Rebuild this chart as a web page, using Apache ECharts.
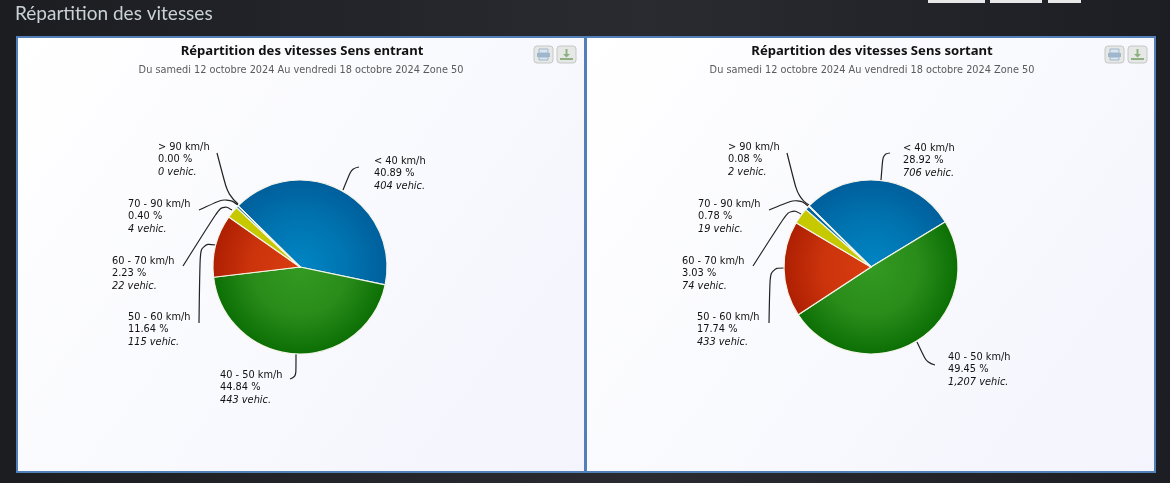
<!DOCTYPE html>
<html><head><meta charset="utf-8">
<style>html,body{margin:0;padding:0;background:#1e1f24;overflow:hidden}#c{width:1170px;height:483px}</style>
<script src="https://cdn.jsdelivr.net/npm/echarts@6/dist/echarts.min.js"></script></head>
<body><div id="c"></div>
<script>
const pageTitle = 'Répartition des vitesses';
const subtitle = 'Du samedi 12 octobre 2024 Au vendredi 18 octobre 2024 Zone 50';
const titleIn = 'Répartition des vitesses Sens entrant';
const titleOut = 'Répartition des vitesses Sens sortant';
const categories = ['< 40 km/h','40 - 50 km/h','50 - 60 km/h','60 - 70 km/h','70 - 90 km/h','> 90 km/h'];
const vehiclesIn = [404,443,115,22,4,0];
const percentIn = ['40.89','44.84','11.64','2.23','0.40','0.00'];
const vehiclesOut = [706,1207,433,74,19,2];
const percentOut = ['28.92','49.45','17.74','3.03','0.78','0.08'];

const FONT = '"DejaVu Sans", Verdana, sans-serif';
const labelXYIn = [[374,155],[220,369],[128,311],[112,255],[128,198],[158,141]];
const labelXYOut = [[903,142],[948,351],[697,311],[682,255],[698,198],[728,141]];
const elbowsIn = [[[352,168],[359,167]],[[296,377],[290,379]],[[200,243],[199,323]],[[222,204],[183,266]],[[227,197],[199,210]],[[228,195],[217,153]]];
const elbowsOut = [[[883,154],[890,153]],[[927,363],[935,365]],[[770,268],[769,323]],[[790,208],[753,266]],[[798,198],[769,210]],[[798,197],[787,153]]];
const starts = {
  0:[[343,190],[296,354],[216,245],[232,210],[238,205],[238,204]],
  1:[[881,180],[917,342],[784,268],[801,214],[808,206],[809,205]]
};
const R = 87;
const cxIn = 300, cxOut = 871, cy = 267;

function grad(cx, inner, mid, outer){
  return {type:'radial',x:cx,y:cy,r:R,global:true,colorStops:[{offset:0,color:inner},{offset:0.55,color:mid},{offset:1,color:outer}]};
}
function colors(cx){
  return [
    grad(cx,'#0085c4','#0074b0','#005f9c'),
    grad(cx,'#339a22','#2a8c1a','#0c6f05'),
    grad(cx,'#d93c10','#cc340c','#ae1f02'),
    '#c6c800',
    grad(cx,'#0085c4','#0074b0','#005f9c'),
    '#8a8a8a'
  ];
}
function pie(name,cx,vals,pct,labelXY,elbows,si){
  const cols = colors(cx);
  return {
    type:'pie',name,center:[cx,cy],radius:[0,R],startAngle:135.4,clockwise:true,
    avoidLabelOverlap:false,animation:false,stillShowZeroSum:true,
    itemStyle:{borderColor:'#f4f5e8',borderWidth:1.2},
    label:{show:true,position:'outside',alignTo:'none',color:'#111',fontFamily:FONT,fontSize:9.8,lineHeight:12.4,
      formatter:p=>`{a|${categories[p.dataIndex]}}\n{a|${pct[p.dataIndex]} %}\n{c|${vals[p.dataIndex].toLocaleString('en-US')} vehic.}`,
      rich:{a:{fontFamily:FONT,fontSize:9.8,lineHeight:12.4,color:'#111'},c:{fontFamily:FONT,fontSize:9.8,lineHeight:12.4,fontStyle:'italic',color:'#111'}}},
    labelLine:{show:true,smooth:0.45,lineStyle:{color:'#222',width:1.2}},
    labelLayout:p=>{
      const i=p.dataIndex;
      return {x:labelXY[i][0],y:labelXY[i][1],align:'left',verticalAlign:'top',
        labelLinePoints:[starts[si][i],elbows[i][0],elbows[i][1]]};
    },
    emphasis:{disabled:true},
    data:categories.map((c,i)=>({name:c,value:vals[i],itemStyle:{color:cols[i]}}))
  };
}
function panel(x,w){
  return {type:'rect',z:-10,shape:{x,y:37,width:w,height:435},
    style:{fill:{type:'linear',x:0,y:0,x2:1,y2:1,colorStops:[{offset:0,color:'#ffffff'},{offset:1,color:'#f3f4fd'}]},stroke:'#5180b8',lineWidth:2}};
}
function button(x,kind){
  const g='#9fb6cc', gr='#8fb083';
  const kids=[{type:'rect',shape:{x:0,y:0,width:19,height:17,r:3},style:{fill:'#e6e8e6',stroke:'#c4c8c6',lineWidth:1}}];
  if(kind==='print'){
    kids.push({type:'rect',shape:{x:5,y:3,width:9,height:4},style:{fill:'#dce6f0',stroke:g}});
    kids.push({type:'rect',shape:{x:3,y:7,width:13,height:4},style:{fill:g}});
    kids.push({type:'rect',shape:{x:5,y:11,width:9,height:3},style:{fill:'#dce6f0',stroke:g}});
  }else{
    kids.push({type:'polygon',shape:{points:[[8.5,3],[10.5,3],[10.5,8],[13,8],[9.5,11.5],[6,8],[8.5,8]]},style:{fill:gr}});
    kids.push({type:'rect',shape:{x:3,y:12,width:13,height:2},style:{fill:gr}});
  }
  return {type:'group',x,y:46,z:-5,children:kids};
}
const chart = echarts.init(document.getElementById('c'),null,{renderer:'canvas',width:1170,height:483});
const titleStyle = {fontFamily:'"Noto Sans",sans-serif',fontSize:13.1,fontWeight:'bold',color:'#111'};
const subStyle = {fontFamily:FONT,fontSize:9.75,fontWeight:'normal',color:'#5a5a5a'};
chart.setOption({
  animation:false,
  backgroundColor:{type:'linear',x:0,y:0,x2:1,y2:0,colorStops:[{offset:0,color:'#1c1d21'},{offset:0.55,color:'#2a2b30'},{offset:1,color:'#1d1e23'}]},
  title:[
    {text:titleIn,left:297,top:39.5,textAlign:'center',textStyle:titleStyle},
    {text:subtitle,left:296,top:60.5,textAlign:'center',textStyle:subStyle},
    {text:titleOut,left:867,top:39.5,textAlign:'center',textStyle:titleStyle},
    {text:subtitle,left:867,top:60.5,textAlign:'center',textStyle:subStyle},
    {text:pageTitle,left:10,top:-1,textStyle:{fontFamily:'Lato,"Open Sans",sans-serif',fontSize:19,fontWeight:'normal',color:'#c9d2d6'}}
  ],
  graphic:[
    panel(17,568),panel(586,569),
    button(534,'print'),button(557,'down'),button(1105,'print'),button(1128,'down'),
    {type:'rect',z:-5,shape:{x:928,y:0,width:57,height:3},style:{fill:'#e8e8e8'}},
    {type:'rect',z:-5,shape:{x:990,y:0,width:52,height:3},style:{fill:'#e8e8e8'}},
    {type:'rect',z:-5,shape:{x:1048,y:0,width:33,height:3},style:{fill:'#e8e8e8'}}
  ],
  series:[
    pie('Sens entrant',cxIn,vehiclesIn,percentIn,labelXYIn,elbowsIn,0),
    pie('Sens sortant',cxOut,vehiclesOut,percentOut,labelXYOut,elbowsOut,1)
  ]
});
</script></body></html>
